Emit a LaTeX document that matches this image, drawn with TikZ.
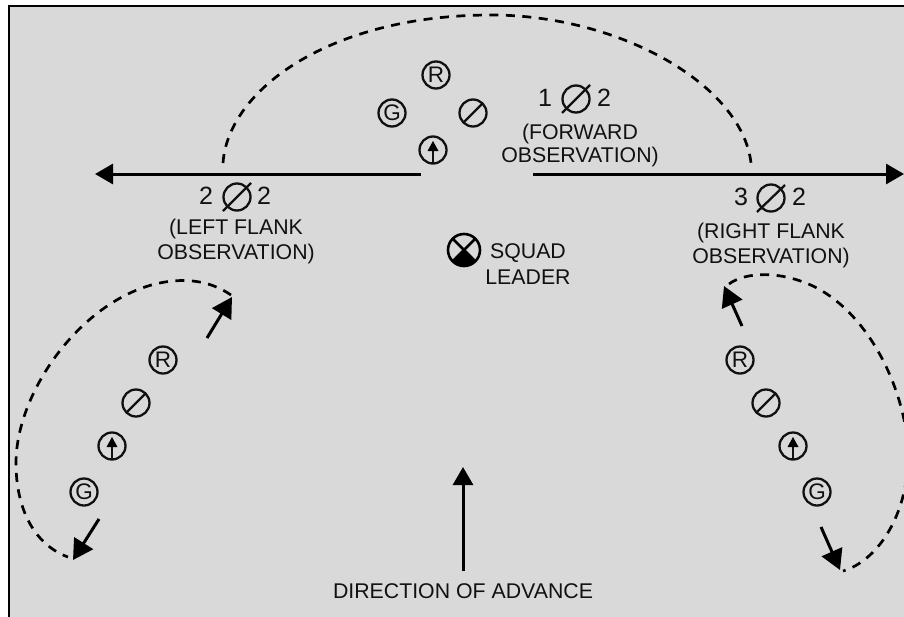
\documentclass[tikz,border=0pt]{standalone}
\usepackage{fontspec}
\setmainfont{Liberation Sans}
\usetikzlibrary{arrows.meta}
\definecolor{ink}{HTML}{111111}
\tikzset{
  sym/.style={circle,draw=ink,text=ink,line width=2.3pt,minimum size=27pt,inner sep=0pt,fill=none},
  symtext/.style={sym,font=\fontsize{22.5}{24}\selectfont},
  slashsym/.style={sym,path picture={\draw[line width=2.3pt] (path picture bounding box.south west)--(path picture bounding box.north east);}},
  arrowsym/.style={sym,path picture={
    \draw[line width=2.3pt] (path picture bounding box.center)++(0,1)--++(0,13);
    \fill (path picture bounding box.center)++(-5.5,1)--++(11,0)--++(-5.5,-10)--cycle;}},
  label/.style={align=center,inner sep=0pt,text=ink},
  digit/.style={inner sep=0pt,text=ink,font=\fontsize{25}{25}\selectfont},
  bigphi/.style={circle,draw=ink,line width=2.3pt,minimum size=27pt,inner sep=0pt},
  phislash/.style={line width=2.3pt,draw=ink},
  mainarrow/.style={draw=black,line width=3pt,-{Triangle[length=18pt,width=20pt]}},
  moveline/.style={draw=black,line width=3pt,-{Triangle[length=20pt,width=22pt]}},
  dashpath/.style={line width=2.7pt,dash pattern=on 9pt off 7.5pt}
}
\newcommand{\lblfont}[1]{\fontsize{21.3}{#1}\selectfont}
\begin{document}
\begin{tikzpicture}[x=1pt,y=-1pt]
\useasboundingbox (0,0) rectangle (904,616);
\clip (0,0) rectangle (904,616);
\fill[white] (0,0) rectangle (904,616);
\filldraw[fill=black!15,draw=black,line width=2.8pt] (9,620) -- (9,6) -- (910,6) -- (910,620);
% centre group
\node[symtext] (rc) at (436,75) {R};
\node[symtext] (gc) at (392,113) {G};
\node[slashsym] (sc) at (473,113) {};
\node[arrowsym] (ac) at (433,150) {};
% left column
\node[symtext] (rl) at (163,360) {R};
\node[slashsym] (sl) at (136,403) {};
\node[arrowsym] (al) at (112,446) {};
\node[symtext] (gl) at (84,492) {G};
% right column
\node[symtext] (rr) at (740,360) {R};
\node[slashsym] (sr) at (766,403) {};
\node[arrowsym] (ar) at (793,446) {};
\node[symtext] (gr) at (817,492) {G};
% position labels
\node[digit] (n1a) at (545,98) {1};
\node[bigphi] (p1) at (576,99) {};
\draw[phislash] (562,113) -- (590,85);
\node[digit] (n1b) at (604,98) {2};
\node[label,font=\lblfont{23.5}] (forward) at (580,145.5) {(FORWARD\\OBSERVATION)};
\node[digit] (n2a) at (206,196) {2};
\node[bigphi] (p2) at (237,197) {};
\draw[phislash] (223,211) -- (251,183);
\node[digit] (n2b) at (264,196) {2};
\node[label,font=\lblfont{25}] (leftl) at (236,241) {(LEFT FLANK\\OBSERVATION)};
\node[digit] (n3a) at (741,197) {3};
\node[bigphi] (p3) at (771,198) {};
\draw[phislash] (757,212) -- (785,185);
\node[digit] (n3b) at (799,197) {2};
\node[label,font=\lblfont{25}] (rightl) at (771,245) {(RIGHT FLANK\\OBSERVATION)};
% squad leader
\node[circle,draw=black,line width=2.6pt,minimum size=32pt,inner sep=0pt,
  path picture={
    \fill (path picture bounding box.center)--++(-20,20)--++(40,0)--cycle;
    \draw[line width=2.6pt] (path picture bounding box.center)++(-20,-20)--++(40,40);
    \draw[line width=2.6pt] (path picture bounding box.center)++(20,-20)--++(-40,40);}] (sq) at (464,250) {};
\node[label,font=\lblfont{26}] (sqt) at (528,264) {SQUAD\\LEADER};
\node[label,font=\lblfont{25}] (dir) at (463,591) {DIRECTION OF ADVANCE};
% coordinates
\coordinate (hlA) at (421,174); \coordinate (hlB) at (95,174);
\coordinate (hrA) at (533,174); \coordinate (hrB) at (904,174);
\coordinate (adA) at (463,571); \coordinate (adB) at (463,467);
\coordinate (lt1) at (207,338); \coordinate (lt2) at (232,297);
\coordinate (lb1) at (99,519); \coordinate (lb2) at (73,560);
\coordinate (rt1) at (742,326); \coordinate (rt2) at (724,286);
\coordinate (rb1) at (821,527); \coordinate (rb2) at (840,570);
\draw[mainarrow] (hlA) -- (hlB);
\draw[mainarrow] (hrA) -- (hrB);
\draw[mainarrow] (adA) -- (adB);
\draw[moveline] (lt1) -- (lt2);
\draw[moveline] (lb1) -- (lb2);
\draw[moveline] (rt1) -- (rt2);
\draw[moveline] (rb1) -- (rb2);
% dashed paths
\coordinate (ta) at (223,163); \coordinate (tb) at (751,163);
\draw[dashpath] (ta) .. controls (228,90) and (330,15) .. (491,15) .. controls (620,15) and (742,85) .. (tb);
\coordinate (la) at (231,295); \coordinate (lb) at (68,557);
\draw[dashpath] (la) .. controls (212,282) and (190,278) .. (165,282) .. controls (85,295) and (16,390) .. (16,463) .. controls (16,510) and (35,545) .. (lb);
\coordinate (ra) at (729,284); \coordinate (rb) at (843,571);
\draw[dashpath] (ra) .. controls (745,272) and (780,270) .. (815,287) .. controls (870,315) and (905,390) .. (908,450) .. controls (910,510) and (880,560) .. (rb);
\end{tikzpicture}
\end{document}
